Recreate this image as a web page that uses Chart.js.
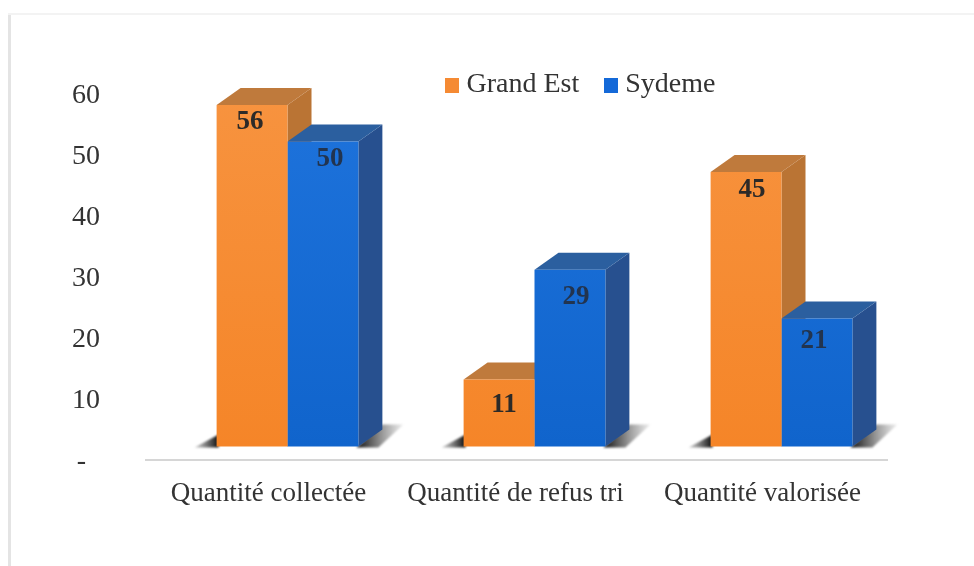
<!DOCTYPE html>
<html lang="fr">
<head>
<meta charset="utf-8">
<style>
html,body{margin:0;padding:0;background:#fff;}
#wrap{position:absolute;left:0;top:0;width:974px;height:566px;}
</style>
<script src="https://cdn.jsdelivr.net/npm/chart.js@4"></script>
</head>
<body>
<div id="wrap"><canvas id="c" width="974" height="566"></canvas></div>
<script>
const categories = ['Quantité collectée', 'Quantité de refus tri', 'Quantité valorisée'];
const seriesNames = ['Grand Est', 'Sydeme'];
const grandEst = [56, 11, 45];
const sydeme = [50, 29, 21];
const tickValues = [0, 10, 20, 30, 40, 50, 60];

const FLOOR = 2.2;
const SHIFT_X = 19, DEPTH_X = 24, DEPTH_Y = 17;
const FONT = '"Liberation Serif", "Times New Roman", serif';
const LABEL_DX = [[-2, 5, 6], [7, 6, -3]];
const LABEL_DY = [[17, 26, 18], [17, 27, 23]];

const canvas = document.getElementById('c');
const g = canvas.getContext('2d');
function vgrad(a, b) {
  const l = g.createLinearGradient(0, 94, 0, 447);
  l.addColorStop(0, a); l.addColorStop(1, b);
  return l;
}
function swatch(color) {
  const s = document.createElement('canvas');
  s.width = 14; s.height = 15;
  const x = s.getContext('2d');
  x.fillStyle = color; x.fillRect(0, 0, 14, 15);
  return s;
}
const palettes = [
  {front: vgrad('#F7933F', '#F58528'), top: '#BF7A3C', side: '#BA7434', solid: '#F58A33', label: '#2c2a28'},
  {front: vgrad('#1E73DC', '#1064CC'), top: '#2B5F9F', side: '#27508F', solid: '#1469D8', label: '#22344f'}
];
const swatches = palettes.map(p => swatch(p.solid));

function poly(ctx, pts, fill) {
  ctx.beginPath();
  pts.forEach((p, i) => i ? ctx.lineTo(p[0], p[1]) : ctx.moveTo(p[0], p[1]));
  ctx.closePath();
  ctx.fillStyle = fill;
  ctx.fill();
}

const threeD = {
  id: 'threeD',
  beforeLayout(chart) {
    const lg = chart.legend;
    if (lg && !lg._patched) {
      const f = lg.fit;
      lg.fit = function () { f.call(this); this.height = 94; };
      lg._patched = true;
    }
  },
  afterLayout(chart) {
    const lg = chart.legend;
    const pad = lg.options.labels.padding;
    lg.left = 451.5 - pad; lg.right = 780; lg.top = 71 - pad;
    lg.bottom = lg.top + 90;
  },
  beforeDraw(chart) {
    const ctx = chart.ctx;
    ctx.save();
    ctx.fillStyle = '#e4e4e4';
    ctx.fillRect(8, 13, 3, 553);
    ctx.fillStyle = '#f3f3f3';
    ctx.fillRect(8, 13, 966, 2);
    ctx.restore();
    const xs = chart.scales.x;
    ctx.save();
    ctx.strokeStyle = '#d6d6d6';
    ctx.lineWidth = 2;
    ctx.beginPath();
    ctx.moveTo(xs.left, chart.scales.y.getPixelForValue(0));
    ctx.lineTo(xs.right + 2, chart.scales.y.getPixelForValue(0));
    ctx.stroke();
    ctx.restore();
  },
  beforeDatasetsDraw(chart) {
    const ctx = chart.ctx;
    ctx.save();
    ctx.translate(SHIFT_X, 0);
    const m0 = chart.getDatasetMeta(0).data, m1 = chart.getDatasetMeta(1).data;
    ctx.save();
    ctx.filter = 'blur(1px)';
    m0.forEach((el, i) => {
      const a = el, b = m1[i];
      const left = a.x - a.width / 2, right = b.x + b.width / 2, base = a.base + 1;
      const gl = ctx.createLinearGradient(left - 22, 0, left, 0);
      gl.addColorStop(0, 'rgba(70,70,70,0.25)'); gl.addColorStop(1, 'rgba(30,30,30,1)');
      poly(ctx, [[left - 22, base], [left + 2, base - 13], [left + 2, base]], gl);
      const gr = ctx.createLinearGradient(right, 0, right + 45, 0);
      gr.addColorStop(0, 'rgba(25,25,25,1)'); gr.addColorStop(1, 'rgba(90,90,90,0.1)');
      poly(ctx, [[right - 2, base], [right + 24, base - 23], [right + 45, base - 23], [right + 20, base]], gr);
    });
    ctx.restore();
    [0, 1].forEach(d => {
      const p = palettes[d];
      chart.getDatasetMeta(d).data.forEach(el => {
        const l = el.x - el.width / 2, r = el.x + el.width / 2, t = el.y, b = el.base;
        poly(ctx, [[r, t], [r + DEPTH_X, t - DEPTH_Y], [r + DEPTH_X, b - DEPTH_Y], [r, b]], p.side);
        poly(ctx, [[l, t], [l + DEPTH_X, t - DEPTH_Y], [r + DEPTH_X, t - DEPTH_Y], [r, t]], p.top);
      });
    });
  },
  afterDatasetsDraw(chart) {
    const ctx = chart.ctx;
    ctx.restore();
    ctx.save();
    ctx.font = 'bold 27px ' + FONT;
    ctx.textAlign = 'center';
    ctx.textBaseline = 'middle';
    [grandEst, sydeme].forEach((vals, d) => {
      ctx.fillStyle = palettes[d].label;
      chart.getDatasetMeta(d).data.forEach((el, i) => {
        ctx.fillText(String(vals[i]), el.x + SHIFT_X + LABEL_DX[d][i], el.y + LABEL_DY[d][i]);
      });
    });
    ctx.restore();
  }
};

new Chart(canvas, {
  type: 'bar',
  data: {
    labels: categories,
    datasets: [
      {label: seriesNames[0], data: grandEst.map(v => [FLOOR, FLOOR + v]), backgroundColor: palettes[0].front, borderWidth: 0, borderSkipped: false, clip: false},
      {label: seriesNames[1], data: sydeme.map(v => [FLOOR, FLOOR + v]), backgroundColor: palettes[1].front, borderWidth: 0, borderSkipped: false, clip: false}
    ]
  },
  plugins: [threeD],
  options: {
    responsive: false,
    animation: false,
    layout: {padding: {left: 0, right: 88, top: 0, bottom: 0}},
    datasets: {bar: {categoryPercentage: 0.574, barPercentage: 1}},
    scales: {
      x: {
        grid: {display: false, drawTicks: false},
        border: {display: false},
        ticks: {color: '#333', font: {family: FONT, size: 27}, padding: 18, maxRotation: 0, autoSkip: false},
        afterFit(s) { s.height = 106; }
      },
      y: {
        min: 0, max: 60,
        afterBuildTicks(s) { s.ticks = tickValues.map(v => ({value: v})); },
        grid: {display: false, drawTicks: false},
        border: {display: false},
        ticks: {
          color: '#333', font: {family: FONT, size: 28}, padding: 45, labelOffset: 2,
          callback: v => v === 0 ? '-  ' : String(v)
        },
        afterFit(s) { s.width = 145; }
      }
    },
    plugins: {
      tooltip: {enabled: false},
      legend: {
        display: true,
        position: 'top',
        align: 'start',
        labels: {
          color: '#333',
          font: {family: FONT, size: 28},
          usePointStyle: true,
          pointStyleWidth: 1,
          padding: 31,
          generateLabels: () => seriesNames.map((text, i) => ({
            text, fillStyle: palettes[i].solid, strokeStyle: palettes[i].solid,
            lineWidth: 0, pointStyle: swatches[i], datasetIndex: i, hidden: false, fontColor: '#333'
          }))
        }
      }
    }
  }
});
</script>
</body>
</html>
